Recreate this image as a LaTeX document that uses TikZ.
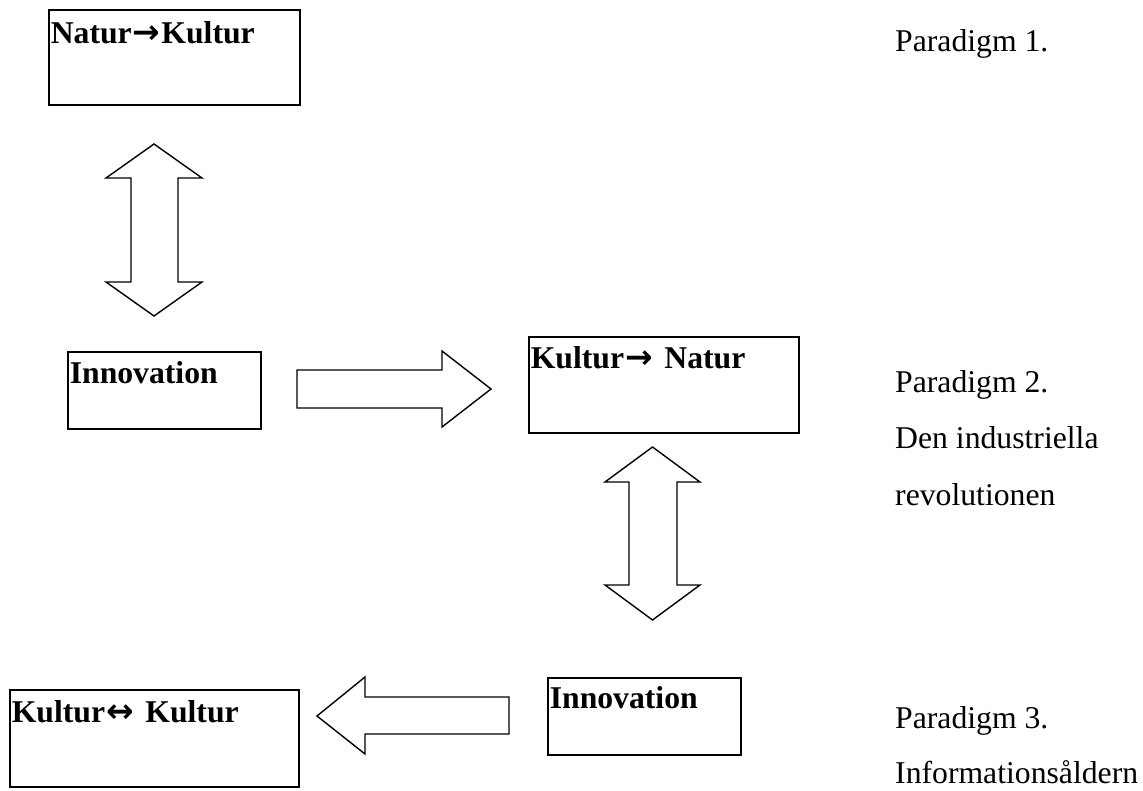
\documentclass[tikz,border=0pt]{standalone}
\usepackage{fontspec}
\setmainfont{Liberation Serif}
\newfontfamily\arrowfont{DejaVu Sans}
\newcommand{\ra}{\kern1pt{\arrowfont\fontsize{33}{38}\selectfont →}\kern1pt}
\newcommand{\lra}{\kern1pt{\arrowfont\fontsize{33}{38}\selectfont ↔}\kern1pt}
\begin{document}
\begin{tikzpicture}[x=1pt,y=-1pt,
  box/.style={draw, line width=1.6pt, anchor=north west, inner xsep=2pt, inner ysep=0pt,
    align=left, font=\bfseries\fontsize{31.7}{38}\selectfont},
  fat/.style={draw, line width=1.4pt, line join=miter, fill=white},
  side/.style={anchor=base west, inner sep=0pt, font=\fontsize{31.7}{38}\selectfont}]
\useasboundingbox (0,0) rectangle (1143,791);
% boxes
\node[box, text width=247pt, text height=34pt, text depth=61pt] (b1) at (48,9) {Natur\ra Kultur};
\node[box, text width=189pt, text height=32pt, text depth=45pt] (i1) at (67,351) {Innovation};
\node[box, text width=266pt, text height=32pt, text depth=64pt] (kn) at (528,336) {Kultur\ra\ Natur};
\node[box, text width=285pt, text height=33pt, text depth=64pt] (kk) at (9,689) {Kultur\lra\ Kultur};
\node[box, text width=189pt, text height=31pt, text depth=46pt] (i2) at (547,677) {Innovation};
% fat arrows
\draw[fat] (154,144) -- (202,178) -- (178,178) -- (178,282) -- (202,282) -- (154,316)
  -- (106,282) -- (131,282) -- (131,178) -- (106,178) -- cycle;
\draw[fat] (297,370) -- (442,370) -- (442,351) -- (491,389) -- (442,427) -- (442,408)
  -- (297,408) -- cycle;
\draw[fat] (652.5,447) -- (700,482) -- (677,482) -- (677,585) -- (700,585) -- (652.5,620)
  -- (605,585) -- (629,585) -- (629,482) -- (605,482) -- cycle;
\draw[fat] (317,716) -- (365,677) -- (365,697) -- (509,697) -- (509,734) -- (365,734)
  -- (365,754) -- cycle;
% side labels
\node[side] (p1) at (895,52) {Paradigm 1.};
\node[side] (p2) at (895,392) {Paradigm 2.};
\node[side] (p2a) at (895,448) {Den industriella};
\node[side] (p2b) at (895,505) {revolutionen};
\node[side] (p3) at (895,728) {Paradigm 3.};
\node[side] (p3a) at (895,783) {Informationsåldern};
\end{tikzpicture}
\end{document}
